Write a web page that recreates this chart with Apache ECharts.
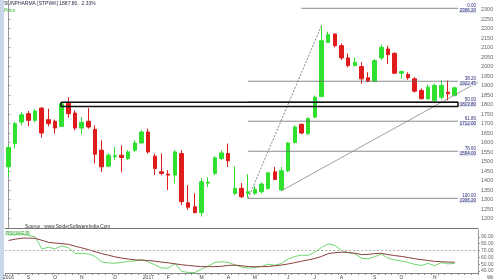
<!DOCTYPE html>
<html><head><meta charset="utf-8">
<script src="https://cdn.jsdelivr.net/npm/echarts@6.0.0/dist/echarts.min.js"></script>
<style>html,body{margin:0;padding:0;background:#fff}#c{width:500px;height:280px}</style>
</head><body><div id="c"></div>
<script>
// ---- data ----
const opens  = [1471.8,1594.5,1707.7,1751.7,1716.6,1781.0,1720.2,1711.3,1685.1,1807.2,1754.8,1676.2,1711.3,1669.4,1559.4,1475.5,1525.3,1533.1,1515.8,1559.4,1597.6,1655.3,1527.9,1445.6,1433.6,1428.3,1542.0,1283.1,1261.7,1230.7,1386.4,1437.2,1515.8,1542.0,1332.4,1358.6,1332.4,1332.4,1340.8,1358.6,1445.6,1349.7,1450.9,1599.7,1695.6,1646.9,1733.9,1842.4,2127.0,2171.0,2109.7,2045.2,2004.8,1999.6,1940.4,1922.5,2045.2,2092.4,2069.3,1964.5,1957.7,1935.1,1873.8,1830.3,1821.4,1838.7,1864.9,1846.9];
const closes = [1573.5,1699.3,1746.5,1716.6,1765.3,1650.0,1699.3,1676.2,1804.1,1751.7,1676.2,1706.1,1681.5,1538.4,1471.8,1533.1,1530.5,1521.1,1550.4,1597.6,1655.3,1550.4,1463.4,1437.2,1428.3,1550.4,1288.4,1259.0,1230.7,1393.2,1391.6,1519.0,1545.2,1503.3,1358.6,1314.6,1340.8,1353.4,1381.2,1440.4,1405.8,1450.9,1597.6,1681.5,1650.0,1725.5,1838.7,2135.9,2167.3,2109.7,2045.2,2004.8,2022.1,1935.1,1922.5,2031.0,2100.8,2062.5,1964.5,1973.4,1940.4,1870.1,1830.3,1891.1,1900.0,1900.0,1856.5,1887.8];
const lows   = [1419.4,1568.3,1690.4,1685.1,1706.1,1625.9,1685.1,1646.9,1681.5,1730.7,1664.2,1643.2,1673.1,1489.6,1445.6,1470.3,1506.9,1442.5,1506.9,1550.4,1594.5,1542.0,1428.3,1428.3,1349.7,1384.8,1271.1,1244.9,1227.6,1209.8,1365.5,1428.3,1506.9,1471.8,1323.5,1307.8,1306.2,1323.5,1332.4,1349.7,1402.1,1346.1,1444.0,1594.5,1643.2,1638.0,1727.1,1838.7,2125.4,2100.8,2034.7,1995.9,1999.6,1908.9,1917.3,1917.3,2034.7,2013.7,1961.3,1935.1,1929.9,1863.3,1826.6,1824.0,1816.2,1826.6,1821.4,1842.4];
const highs  = [1585.5,1707.7,1760.1,1765.3,1774.2,1786.3,1777.9,1720.2,1812.5,1838.7,1769.0,1733.9,1781.0,1690.4,1611.8,1543.6,1576.6,1585.5,1559.4,1611.8,1664.2,1673.1,1542.0,1542.0,1454.5,1559.4,1559.4,1375.9,1332.4,1412.6,1417.8,1527.9,1559.4,1594.5,1475.5,1386.4,1433.6,1370.7,1391.6,1445.6,1471.8,1471.8,1601.3,1690.4,1699.3,1733.9,1847.6,2214.5,2183.0,2174.0,2121.7,2069.3,2048.3,2022.1,1969.7,2040.0,2114.9,2109.7,2074.5,1978.6,1969.7,1943.5,1884.3,1905.3,1910.5,1926.2,1926.2,1894.1];
const rsi    = [92.9,93.7,94.4,92.2,90.0,72.4,74.6,72.4,76.8,73.8,65.7,65.7,65.0,61.3,53.2,51.8,51.3,52.5,54.0,54.7,56.9,53.2,48.8,44.4,44.0,51.0,39.3,37.8,37.8,42.9,47.4,52.5,53.5,52.5,48.8,45.9,44.0,45.1,46.6,49.9,48.4,51.0,57.6,61.3,63.1,62.8,67.5,74.6,79.7,77.5,70.1,66.8,65.0,58.7,57.6,61.0,64.6,58.7,56.2,54.4,52.5,49.6,48.1,51.0,47.8,52.2,50.3,51.3];
const rsiSignal = [84.6,86.6,88.1,88.1,87.8,84.9,81.9,80.9,80.0,79.0,76.3,73.8,71.2,68.2,65.4,63.1,60.6,58.8,57.4,56.2,55.7,55.3,54.3,52.9,51.9,50.4,49.1,48.1,47.1,46.3,46.3,46.3,46.9,48.1,48.5,47.6,46.5,46.2,46.3,46.5,47.6,48.7,50.3,52.2,54.3,56.2,58.2,61.3,65.3,66.8,67.5,67.1,66.0,64.0,64.3,65.4,65.9,64.0,62.5,61.3,59.7,57.9,56.6,55.4,54.0,53.5,53.1,52.8];
const tickIdx  = [0,3,7,11,16,21,24,29,33,37,42,46,50,55,59,64];
const tickText = ['2016','S','O','N','D','2017','F','M','A','M','J','J','A','S','O','N'];
const fibPct   = ['0.00','38.20','50.00','61.80','78.60','100.00'];
const fibVal   = [2306.2,1922.45,1813.8,1712.0,1554.0,1306.2];
const fibFrom  = [44,36,36,36,36,36];
const trend1   = [[36,1306.2],[47,2214.5]];
const trend2   = [[41,1346.1],[70.5,1918.0]];
const boxIdx   = [7.9,67.5];
const boxVal   = [1812.5,1790.0];
const lastClose = 1887.8;
const nCats = 71;

// categories: weekly
const categories = [];
{ let t = Date.UTC(2016,7,12); for (let i=0;i<nCats;i++){ const d=new Date(t+i*7*864e5); categories.push(d.toISOString().slice(0,10)); } }
const labelMap = {}; tickIdx.forEach((k,j)=>labelMap[k]=tickText[j]);

const candleData = opens.map((o,i)=>[o,closes[i],lows[i],highs[i]]);
const FONT = 'Liberation Sans';
const UP='#2fe02f', DOWN='#e01b1b';
const fibEnd = 67.5;

const series = [{
  type:'candlestick', xAxisIndex:0, yAxisIndex:0, data:candleData, barWidth:4,
  itemStyle:{color:UP,color0:DOWN,borderColor:UP,borderColor0:DOWN,borderWidth:1},
  markLine:{silent:true,symbol:'none',animation:false,data:[{yAxis:lastClose}],
    lineStyle:{opacity:0},
    label:{show:true,position:'end',distance:1,formatter:lastClose.toFixed(2),backgroundColor:'#2b2b2b',color:'#fff',fontSize:5,fontFamily:FONT,padding:[1,2,1,2]}}
}];
fibVal.forEach((v,k)=>{
  series.push({type:'line',xAxisIndex:1,yAxisIndex:0,silent:true,symbol:'none',
    data:[[fibFrom[k],v],[fibEnd,v]],lineStyle:{color:'#6e6e6e',width:0.8},
    endLabel:{show:true,distance:1,formatter:'{p|'+fibPct[k]+'}\n{v|'+v.toFixed(2)+'}',
      rich:{p:{fontSize:4.5,color:'#2b2b7a',fontFamily:FONT,align:'right',width:17,lineHeight:5},
            v:{fontSize:4.5,color:'#2b2b7a',fontFamily:FONT,align:'right',width:17,lineHeight:5,backgroundColor:'#e3e6f0'}}}});
});
series.push({type:'line',xAxisIndex:1,yAxisIndex:0,silent:true,symbol:'none',data:trend1,lineStyle:{color:'#666',width:0.8,type:[2,1.5]}});
series.push({type:'line',xAxisIndex:1,yAxisIndex:0,silent:true,symbol:'none',data:trend2,lineStyle:{color:'#888',width:0.8}});
series.push({type:'line',xAxisIndex:1,yAxisIndex:0,silent:true,symbol:'none',
  data:[[boxIdx[0],boxVal[0]],[boxIdx[1],boxVal[0]],[boxIdx[1],boxVal[1]],[boxIdx[0],boxVal[1]],[boxIdx[0],boxVal[0]]],
  lineStyle:{color:'#111',width:1.5}});
series.push({type:'line',xAxisIndex:2,yAxisIndex:1,silent:true,symbol:'none',data:rsi,lineStyle:{color:'#6fd66f',width:1},
  markLine:{silent:true,symbol:'none',animation:false,data:[{yAxis:70}],label:{show:false},lineStyle:{color:'#aaa',width:1,type:[2,2]}}});
series.push({type:'line',xAxisIndex:2,yAxisIndex:1,silent:true,symbol:'none',data:rsiSignal,lineStyle:{color:'#8b3f3f',width:1}});

const chart = echarts.init(document.getElementById('c'),null,{renderer:'canvas'});
chart.setOption({
  animation:false,
  backgroundColor:'#fff',
  grid:[{left:5,right:22,top:0,bottom:52},{left:5,right:22,top:230,bottom:7}],
  xAxis:[
    {type:'category',gridIndex:0,data:categories,boundaryGap:true,axisLabel:{show:false},axisTick:{show:false},axisLine:{show:true,lineStyle:{color:'#777',width:1}},splitLine:{show:false}},
    {type:'value',gridIndex:0,min:-0.5,max:nCats-0.5,show:false},
    {type:'category',gridIndex:1,data:categories,boundaryGap:true,
      axisLine:{show:true,lineStyle:{color:'#888',width:1}},
      axisTick:{show:true,interval:0,length:2,lineStyle:{color:'#888'}},
      axisLabel:{show:true,interval:0,margin:2,fontSize:5,color:'#444',fontFamily:FONT,formatter:(v,i)=>labelMap[i]||''},
      splitLine:{show:false}}
  ],
  yAxis:[
    {type:'value',gridIndex:0,position:'right',min:1150,max:2350,interval:50,
      axisLine:{show:true,lineStyle:{color:'#999'}},axisTick:{show:true,length:2,lineStyle:{color:'#999'}},
      axisLabel:{fontSize:5.5,color:'#666',margin:3,fontFamily:FONT,showMaxLabel:false,showMinLabel:false,formatter:v=>String(v)},
      splitLine:{show:false}},
    {type:'value',gridIndex:1,position:'right',min:37,max:100,
      axisLine:{show:true,lineStyle:{color:'#999'}},
      axisTick:{show:true,length:2,customValues:[40,50,60,70,80,90],lineStyle:{color:'#999'}},
      axisLabel:{fontSize:5,color:'#666',margin:3,fontFamily:FONT,customValues:[40,50,60,70,80,90],formatter:v=>v.toFixed(2)},
      splitLine:{show:false}}
  ],
  graphic:[
    {type:'rect',left:0,top:0,shape:{width:4,height:280},style:{fill:'#c9d7e8'},silent:true},
    {type:'text',left:4,top:1,style:{text:'SUNPHARMA [STPWK] 1887.80,  2.33%',fontSize:5,fill:'#1f2540',fontFamily:FONT}},
    {type:'text',left:4,top:8,style:{text:'Price',fontSize:5,fill:'#3cc23c',fontFamily:FONT}},
    {type:'text',left:25,top:224,style:{text:'Source : www.SpiderSoftwareIndia.Com',fontSize:4.8,fill:'#333',fontFamily:FONT}},
    {type:'text',left:5,top:231,style:{text:'RSI(14,E,9)',fontSize:4.5,fill:'#3a9a3a',fontFamily:FONT,backgroundColor:'#e4f4e4',padding:[0,1]}},
    {type:'text',left:487,top:275,style:{text:'Wk',fontSize:4.5,fill:'#555',fontFamily:FONT}}
  ],
  series
});
</script></body></html>
